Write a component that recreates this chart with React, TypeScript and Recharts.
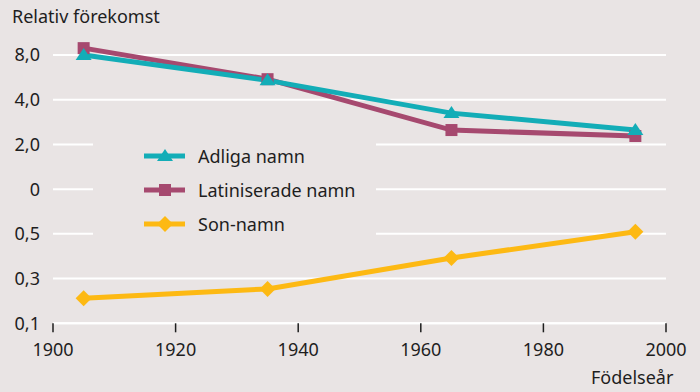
import React from 'react';
import { LineChart, Line, XAxis, YAxis, CartesianGrid, Legend } from 'recharts';

const years = [1905, 1935, 1965, 1995];
const adliga = [8.0, 5.4, 3.25, 2.5];
const latiniserade = [8.9, 5.5, 2.5, 2.28];
const sonNamn = [0.184, 0.213, 0.344, 0.517];
const yTicks = [0.125, 0.25, 0.5, 1, 2, 4, 8];
const yTickLabels = ['0,1', '0,3', '0,5', '0', '2,0', '4,0', '8,0'];
const xTicks = [1900, 1920, 1940, 1960, 1980, 2000];
const seriesNames = ['Adliga namn', 'Latiniserade namn', 'Son-namn'];

const BG = '#E9E4E4';
const TEAL = '#13ADB7';
const MAROON = '#A6496F';
const YELLOW = '#FDB913';
const TEXT = '#1E1E1E';
const FONT = '"Noto Sans", sans-serif';
const FS = 18;

const data = years.map((y, i) => ({
  year: y,
  adliga: adliga[i],
  latin: latiniserade[i],
  son: sonNamn[i],
}));

const Triangle = (props: any) => {
  const { cx, cy } = props;
  if (cx == null || cy == null) return null;
  return <polygon points={`${cx - 8},${cy + 5} ${cx + 8},${cy + 5} ${cx},${cy - 7}`} fill={TEAL} />;
};
const Square = (props: any) => {
  const { cx, cy } = props;
  if (cx == null || cy == null) return null;
  return <rect x={cx - 6} y={cy - 6} width={12} height={12} fill={MAROON} />;
};
const Diamond = (props: any) => {
  const { cx, cy } = props;
  if (cx == null || cy == null) return null;
  return <polygon points={`${cx},${cy - 8} ${cx + 8},${cy} ${cx},${cy + 8} ${cx - 8},${cy}`} fill={YELLOW} />;
};

const legendItems = [
  { name: seriesNames[0], color: TEAL, shape: 'tri' },
  { name: seriesNames[1], color: MAROON, shape: 'sq' },
  { name: seriesNames[2], color: YELLOW, shape: 'dia' },
];

const LegendContent = () => (
  <div style={{ width: 283, height: 102, background: BG, fontFamily: FONT, position: 'relative' }}>
    {legendItems.map((it, i) => (
      <div key={it.name} style={{ position: 'absolute', left: 0, top: 6 + i * 34, height: 24, width: 283 }}>
        <svg width={44} height={24} style={{ position: 'absolute', left: 50, top: 0 }}>
          <line x1={1} y1={12} x2={42} y2={12} stroke={it.color} strokeWidth={5} />
          {it.shape === 'tri' && <polygon points="14,17 30,17 22,5" fill={it.color} />}
          {it.shape === 'sq' && <rect x={16} y={6} width={12} height={12} fill={it.color} />}
          {it.shape === 'dia' && <polygon points="22,4 30,12 22,20 14,12" fill={it.color} />}
        </svg>
        <span style={{ position: 'absolute', left: 105, top: 0, fontSize: FS, lineHeight: '24px', color: TEXT, whiteSpace: 'nowrap' }}>
          {it.name}
        </span>
      </div>
    ))}
  </div>
);

export default function App() {
  return (
    <div style={{ position: 'absolute', left: 0, top: 0, width: 700, height: 392, background: BG, fontFamily: FONT }}>
      <div style={{ position: 'absolute', left: 12, top: 4, fontSize: FS, color: TEXT, whiteSpace: 'nowrap' }}>Relativ förekomst</div>
      <div style={{ position: 'absolute', left: 591, top: 365, fontSize: FS, color: TEXT, whiteSpace: 'nowrap' }}>Födelseår</div>
      <LineChart
        width={700}
        height={392}
        data={data}
        margin={{ top: 10.3, right: 34, bottom: 38.7, left: 0 }}
        style={{ position: 'absolute', left: 0, top: 0 }}
      >
        <CartesianGrid horizontal vertical={false} horizontalValues={yTicks} stroke="#FFFFFF" strokeWidth={2} />
        <XAxis
          type="number"
          dataKey="year"
          domain={[1900, 2000]}
          ticks={xTicks}
          height={30}
          axisLine={{ stroke: '#FFFFFF', strokeWidth: 2 }}
          tickLine={{ stroke: TEXT, strokeWidth: 1.5 }}
          tickSize={9}
          tickMargin={11}
          tick={{ fill: TEXT, fontSize: FS, fontFamily: FONT }}
          interval={0}
        />
        <YAxis
          type="number"
          scale="log"
          domain={[0.125, 16]}
          ticks={yTicks}
          width={53}
          axisLine={false}
          tickLine={false}
          tickMargin={7}
          interval={0}
          tick={{ fill: TEXT, fontSize: FS, fontFamily: FONT }}
          tickFormatter={(v: number) => yTickLabels[yTicks.indexOf(v)] ?? ''}
        />
        <Legend
          layout="horizontal"
          verticalAlign="middle"
          align="center"
          content={<LegendContent />}
          wrapperStyle={{ position: 'absolute', left: 93, top: 138, width: 283, height: 102 }}
        />
        <Line
          dataKey="latin"
          stroke={MAROON}
          strokeWidth={5}
          dot={<Square />}
          activeDot={false}
          isAnimationActive={false}
        />
        <Line
          dataKey="adliga"
          stroke={TEAL}
          strokeWidth={5}
          dot={<Triangle />}
          activeDot={false}
          isAnimationActive={false}
        />
        <Line
          dataKey="son"
          stroke={YELLOW}
          strokeWidth={5}
          dot={<Diamond />}
          activeDot={false}
          isAnimationActive={false}
        />
      </LineChart>
    </div>
  );
}
